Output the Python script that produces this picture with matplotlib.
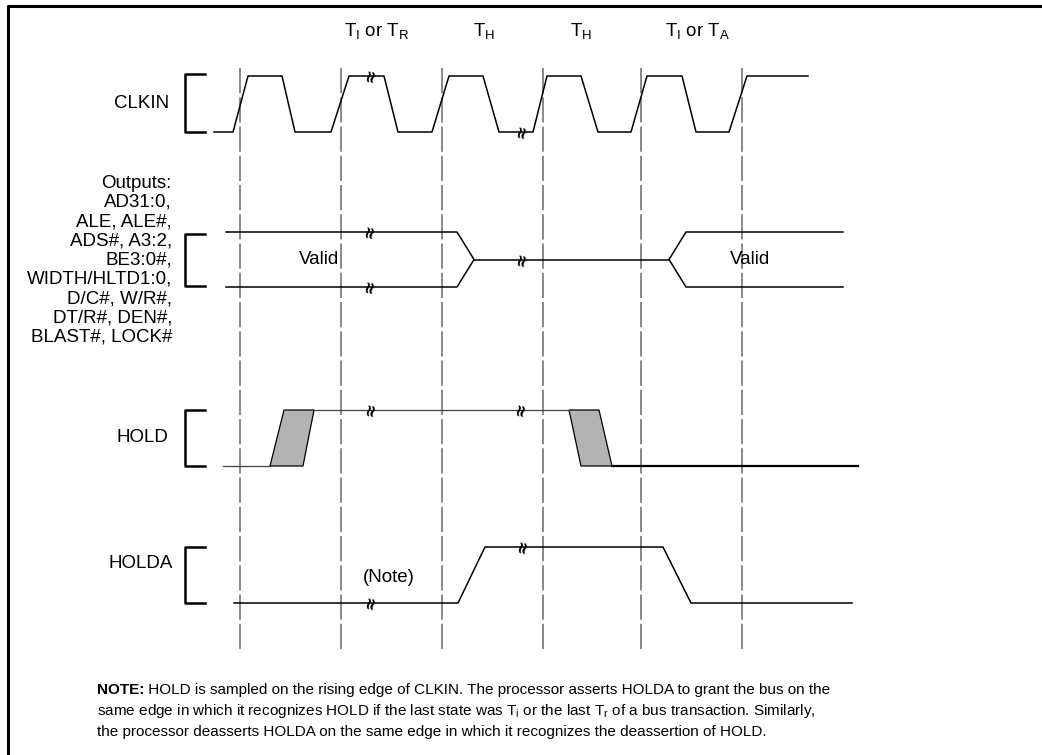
import matplotlib.pyplot as plt
from matplotlib.patches import Polygon

plt.rcParams['font.family'] = ['Liberation Sans', 'DejaVu Sans']
plt.rcParams['mathtext.fontset'] = 'custom'
plt.rcParams['mathtext.rm'] = 'Liberation Sans'
plt.rcParams['mathtext.it'] = 'Liberation Sans:italic'
plt.rcParams['mathtext.bf'] = 'Liberation Sans:bold'

# clock edges (pixel time axis) and signal rows (high y, low y)
edge_x = [240, 341, 442, 543, 641, 742]
state_labels = [r'T$_\mathrm{I}$ or T$_\mathrm{R}$', r'T$_\mathrm{H}$', r'T$_\mathrm{H}$',
                r'T$_\mathrm{I}$ or T$_\mathrm{A}$']
state_x = [377, 484, 581, 698]

rows = {'clk': (76, 132), 'bus': (232, 287), 'hold': (410, 466), 'holda': (547, 603)}

clk_t = [214, 233, 248, 282, 295, 331, 349, 384, 398, 432, 449, 483, 499, 533,
         547, 581, 598, 631, 647, 682, 696, 729, 747, 808]
clk_v = [0, 0, 1, 1, 0, 0, 1, 1, 0, 0, 1, 1, 0, 0, 1, 1, 0, 0, 1, 1, 0, 0, 1, 1]

bus_t = [226, 457, 474, 669, 686, 843]   # valid end, float point, float end, valid start

hold_t = [223, 270, 303, 284, 314, 569, 599, 581, 612, 858]
holda_t = [234, 458, 485, 663, 691, 852]
holda_v = [0, 0, 1, 1, 0, 0]

breaks = [(371, 'clk', 1), (522, 'clk', 0), (370, 'bus', 1), (370, 'bus', 0),
          (522, 'bus', 0.5), (371, 'hold', 1), (521, 'hold', 1),
          (371, 'holda', 0), (523, 'holda', 1)]

out_lines = ['Outputs:', 'AD31:0,', 'ALE, ALE#,', 'ADS#, A3:2,', 'BE3:0#,',
             'WIDTH/HLTD1:0,', 'D/C#, W/R#,', 'DT/R#, DEN#,', 'BLAST#, LOCK#']
note_head = 'NOTE:'
note_lines = [' HOLD is sampled on the rising edge of CLKIN. The processor asserts HOLDA to grant the bus on the',
              r'same edge in which it recognizes HOLD if the last state was T$_\mathrm{i}$ or the last T$_\mathrm{r}$ of a bus transaction. Similarly,',
              'the processor deasserts HOLDA on the same edge in which it recognizes the deassertion of HOLD.']


def ys(row, v):
    hi, lo = rows[row]
    return lo + (hi - lo) * v


fig = plt.figure(figsize=(10.42, 7.55), dpi=100)
ax = fig.add_axes([0, 0, 1, 1])
ax.set_xlim(0, 1042)
ax.set_ylim(755, 0)
ax.axis('off')

lw = 1.1
fs = 13.5
# frame
ax.plot([8, 8, 1042], [755, 6, 6], color='black', lw=2.2)

# dashed clock edge guides
for x in edge_x:
    ax.plot([x, x], [68, 653], color='#808080', lw=1.3, dashes=(14, 2.2), zorder=1)

# brackets
for row in rows:
    hi, lo = rows[row]
    if row == 'bus':
        hi, lo = 234, 286
    if row == 'clk':
        hi = 74
    ax.plot([205, 185, 185, 205], [hi, hi, lo, lo], color='black', lw=1.8)

# CLKIN
ax.plot(clk_t, [ys('clk', v) for v in clk_v], color='black', lw=lw, zorder=3)

# outputs bus
hi, lo = rows['bus']
mid = (hi + lo) / 2
ax.plot([bus_t[0], bus_t[1], bus_t[2], bus_t[1], bus_t[0]], [hi, hi, mid, lo, lo],
        color='black', lw=lw, zorder=3)
ax.plot([bus_t[2], bus_t[3]], [mid, mid], color='black', lw=lw, zorder=3)
ax.plot([bus_t[5], bus_t[4], bus_t[3], bus_t[4], bus_t[5]], [hi, hi, mid, lo, lo],
        color='black', lw=lw, zorder=3)

# HOLD with shaded transition windows
hi, lo = rows['hold']
ax.add_patch(Polygon([(hold_t[1], lo), (hold_t[2], lo), (hold_t[4], hi), (hold_t[3], hi)],
                     closed=True, facecolor='#b3b3b3', edgecolor='black', lw=0.9, zorder=3))
ax.add_patch(Polygon([(hold_t[5], hi), (hold_t[6], hi), (hold_t[8], lo), (hold_t[7], lo)],
                     closed=True, facecolor='#b3b3b3', edgecolor='black', lw=0.9, zorder=3))
ax.plot([hold_t[0], hold_t[1]], [lo, lo], color='#404040', lw=0.9, zorder=3)
ax.plot([hold_t[4], hold_t[5]], [hi, hi], color='#404040', lw=0.9, zorder=3)
ax.plot([hold_t[8], hold_t[9]], [lo, lo], color='black', lw=1.6, zorder=3)

# HOLDA
ax.plot(holda_t, [ys('holda', v) for v in holda_v], color='black', lw=lw, zorder=3)

# break marks
for x, row, v in breaks:
    ax.text(x, ys(row, v), '\u2248', rotation=78, ha='center', va='center',
            fontsize=12, fontweight='bold', family='DejaVu Sans', zorder=4)

# labels
for lab, x in zip(state_labels, state_x):
    ax.text(x, 31, lab, ha='center', va='center', fontsize=fs)
ax.text(142, 104, 'CLKIN', ha='center', va='center', fontsize=fs)
for i, s in enumerate(out_lines):
    ax.text(172, 183 + i * 19.3, s, ha='right', va='center', fontsize=fs)
ax.text(142, 438, 'HOLD', ha='center', va='center', fontsize=fs)
ax.text(141, 563, 'HOLDA', ha='center', va='center', fontsize=fs)
ax.text(319, 259, 'Valid', ha='center', va='center', fontsize=fs)
ax.text(750, 260, 'Valid', ha='center', va='center', fontsize=fs)
ax.text(389, 578, '(Note)', ha='center', va='center', fontsize=fs)

# note block
head = ax.text(97, 690, note_head, ha='left', va='center', fontsize=11, fontweight='bold')
ax.annotate(note_lines[0], xy=(1, 0.5), xycoords=head, ha='left', va='center', fontsize=11)
for i, s in enumerate(note_lines[1:], start=1):
    ax.text(97, 690 + i * 21, s, ha='left', va='center', fontsize=11)

fig.savefig('out.png', dpi=100)
